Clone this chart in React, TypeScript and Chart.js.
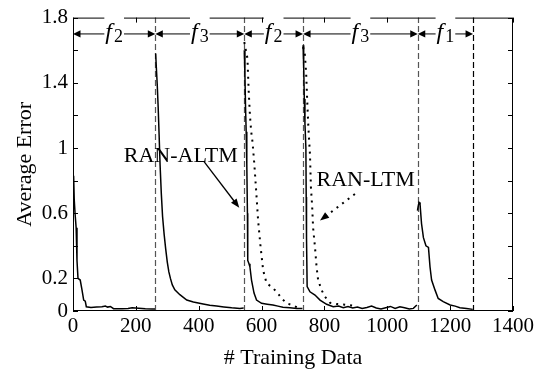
import React, { useEffect, useRef } from 'react';
import { Chart, registerables } from 'chart.js';

Chart.register(...registerables);

type P = [number, number];

// RAN-ALTM (solid) per task block
const altmTask1: P[] = [
  [2, 0.83], [4, 0.68], [6.5, 0.6], [10, 0.51], [12.7, 0.31], [15.9, 0.2], [23, 0.19], [28.6, 0.13],
  [34, 0.067], [39, 0.06], [42.4, 0.026], [57, 0.022], [75, 0.025], [92, 0.026], [103, 0.03],
  [110, 0.024], [119, 0.028], [129, 0.014], [156, 0.014], [175, 0.016], [188, 0.02], [209, 0.017],
  [230, 0.014], [252, 0.012], [261, 0.012],
];
const altmTask2: P[] = [
  [263, 1.58], [265, 1.5], [268, 1.39], [271, 1.25], [274, 1.08], [277, 0.9], [281, 0.72], [285, 0.58],
  [290, 0.47], [295, 0.38], [300, 0.3], [305, 0.24], [310, 0.2], [316, 0.16], [324, 0.13], [340, 0.1],
  [362, 0.067], [383, 0.055], [414, 0.043], [435, 0.035], [457, 0.03], [480, 0.025], [505, 0.02],
  [531, 0.016], [543, 0.018],
];
const altmTask3: P[] = [
  [545, 1.6], [547, 1.45], [549, 1.25], [551, 1.1], [553, 0.9], [555, 0.6], [556, 0.31], [560, 0.29],
  [563, 0.27], [568, 0.19], [576, 0.11], [584, 0.067], [600, 0.047], [618, 0.042], [636, 0.037],
  [652, 0.03], [668, 0.023], [690, 0.02], [712, 0.016], [730, 0.015],
];
const altmTask4: P[] = [
  [732, 1.63], [734, 1.5], [736, 1.3], [738, 1.15], [741, 1.0], [742, 0.7], [743, 0.45], [745, 0.15],
  [754, 0.118], [770, 0.098], [786, 0.067], [807, 0.041], [828, 0.026], [845, 0.03], [860, 0.02],
  [875, 0.028], [890, 0.018], [905, 0.025], [920, 0.015], [935, 0.022], [950, 0.03], [965, 0.018],
  [980, 0.012], [995, 0.02], [1010, 0.028], [1025, 0.015], [1040, 0.026], [1055, 0.02], [1070, 0.012],
  [1083, 0.016], [1094, 0.037],
];
const altmTask5: P[] = [
  [1096, 0.616], [1099, 0.65], [1101, 0.667], [1104, 0.66], [1109, 0.535], [1115, 0.45], [1123, 0.4],
  [1131, 0.39], [1136, 0.27], [1141, 0.19], [1152, 0.128], [1162, 0.077], [1178, 0.057], [1200, 0.037],
  [1216, 0.03], [1231, 0.02], [1252, 0.016], [1272, 0.01],
];

// RAN-LTM (dotted) where it departs from the solid curve
const ltmTask3: P[] = [
  [545, 1.65], [550, 1.6], [555, 1.55], [559, 1.35], [563, 1.2], [567, 1.1], [571, 1.04], [577, 0.9],
  [582, 0.76], [589, 0.555], [597, 0.39], [605, 0.25], [616, 0.17], [632, 0.148], [648, 0.118],
  [664, 0.077], [680, 0.047], [696, 0.037], [712, 0.023], [725, 0.016],
];
const ltmTask4: P[] = [
  [732, 1.62], [738, 1.57], [742, 1.45], [745, 1.3], [749, 1.125], [754, 0.96], [757, 0.76], [761, 0.64],
  [764, 0.51], [770, 0.39], [775, 0.27], [780, 0.19], [791, 0.128], [802, 0.087], [818, 0.05],
  [839, 0.043], [860, 0.04], [881, 0.035], [900, 0.03],
];

const taskBounds = [0, 262, 545, 732, 1097, 1273];
const taskNames = ['2', '3', '2', '3', '1'];
const yTickLabels = [0, 0.2, 0.6, 1, 1.4, 1.8];
const arrowRowY = 1.7;
const altmNote = { text: 'RAN-ALTM', at: [343, 0.95], from: [417, 0.917], to: [529, 0.633] };
const ltmNote = { text: 'RAN-LTM', at: [931, 0.8], from: [897, 0.718], to: [786, 0.555] };

const SERIF = '"Liberation Serif", "DejaVu Serif", serif';

function join(segs: P[][]) {
  const out: { x: number; y: number | null }[] = [];
  segs.forEach((s, i) => {
    if (i) out.push({ x: s[0][0], y: null });
    s.forEach(([x, y]) => out.push({ x, y }));
  });
  return out;
}

function head(ctx: CanvasRenderingContext2D, x1: number, y1: number, x2: number, y2: number, len: number, hw: number) {
  const a = Math.atan2(y2 - y1, x2 - x1);
  const c = Math.cos(a), s = Math.sin(a);
  ctx.beginPath();
  ctx.moveTo(x2, y2);
  ctx.lineTo(x2 - len * c + hw * s, y2 - len * s - hw * c);
  ctx.lineTo(x2 - len * c - hw * s, y2 - len * s + hw * c);
  ctx.closePath();
  ctx.fill();
}

const framePlugin = {
  id: 'frame',
  beforeDatasetsDraw(chart: any) {
    const { ctx, chartArea: { top, bottom }, scales: { x } } = chart;
    ctx.save();
    ctx.lineWidth = 1.2;
    ctx.setLineDash([6, 3]);
    taskBounds.slice(1).forEach((b, i, arr) => {
      const px = Math.round(x.getPixelForValue(b)) + 0.5;
      ctx.strokeStyle = i === arr.length - 1 ? '#000' : '#555';
      ctx.beginPath();
      ctx.moveTo(px, bottom);
      ctx.lineTo(px, top);
      ctx.stroke();
    });
    ctx.restore();
  },
  afterDatasetsDraw(chart: any) {
    const { ctx, chartArea: { left, right, top, bottom }, scales: { x, y } } = chart;
    ctx.save();
    // frame
    ctx.strokeStyle = '#000';
    ctx.lineWidth = 1;
    ctx.strokeRect(left + 0.5, top + 0.5, right - left - 1, bottom - top - 1);
    // inward ticks
    ctx.beginPath();
    for (let v = 0; v <= 1400; v += 200) {
      const px = Math.round(x.getPixelForValue(v)) + 0.5;
      ctx.moveTo(px, bottom); ctx.lineTo(px, bottom - 5);
      ctx.moveTo(px, top); ctx.lineTo(px, top + 5);
    }
    for (let i = 0; i <= 9; i++) {
      const py = Math.round(y.getPixelForValue(i * 0.2)) + 0.5;
      ctx.moveTo(left, py); ctx.lineTo(left + 5, py);
      ctx.moveTo(right, py); ctx.lineTo(right - 5, py);
    }
    ctx.stroke();

    // task arrow row
    const ay = y.getPixelForValue(arrowRowY);
    for (let i = 0; i < taskNames.length; i++) {
      const a = x.getPixelForValue(taskBounds[i]);
      const b = x.getPixelForValue(taskBounds[i + 1]);
      ctx.strokeStyle = '#6e6e6e';
      ctx.lineWidth = 1.8;
      ctx.beginPath();
      ctx.moveTo(a + 5, ay); ctx.lineTo(b - 5, ay);
      ctx.stroke();
      ctx.fillStyle = '#000';
      head(ctx, b, ay, a, ay, 7.5, 3.7);
      head(ctx, a, ay, b, ay, 7.5, 3.7);
      // label
      const cx = (a + b) / 2;
      ctx.font = `italic 24px ${SERIF}`;
      const wf = ctx.measureText('f').width;
      ctx.font = `18px ${SERIF}`;
      const ws = ctx.measureText(taskNames[i]).width;
      const w = wf + ws + 2;
      const x0 = cx - w / 2;
      ctx.fillStyle = '#fff';
      ctx.fillRect(x0 - 1, top - 6, w + 2, ay - top + 16);
      ctx.fillStyle = '#000';
      ctx.textAlign = 'left';
      ctx.textBaseline = 'alphabetic';
      ctx.font = `italic 24px ${SERIF}`;
      ctx.fillText('f', x0, ay + 5);
      ctx.font = `18px ${SERIF}`;
      ctx.fillText(taskNames[i], x0 + wf + 2, ay + 8);
    }

    // annotations
    ctx.fillStyle = '#000';
    ctx.font = `22px ${SERIF}`;
    ctx.textAlign = 'center';
    ctx.textBaseline = 'middle';
    [altmNote, ltmNote].forEach((n, k) => {
      ctx.fillText(n.text, x.getPixelForValue(n.at[0]), y.getPixelForValue(n.at[1]));
      const x1 = x.getPixelForValue(n.from[0]), y1 = y.getPixelForValue(n.from[1]);
      const x2 = x.getPixelForValue(n.to[0]), y2 = y.getPixelForValue(n.to[1]);
      ctx.strokeStyle = '#000';
      ctx.lineWidth = k === 0 ? 1.3 : 2;
      ctx.setLineDash(k === 0 ? [] : [2, 5]);
      const ang = Math.atan2(y2 - y1, x2 - x1);
      ctx.beginPath();
      ctx.moveTo(x1, y1);
      ctx.lineTo(x2 - 7 * Math.cos(ang), y2 - 7 * Math.sin(ang));
      ctx.stroke();
      ctx.setLineDash([]);
      head(ctx, x1, y1, x2, y2, 9, 3.5);
    });
    ctx.restore();
  },
};

export default function App() {
  const ref = useRef<HTMLCanvasElement | null>(null);
  useEffect(() => {
    if (!ref.current) return;
    const chart = new Chart(ref.current, {
      type: 'line',
      data: {
        datasets: [
          {
            label: 'RAN-ALTM',
            data: join([altmTask1, altmTask2, altmTask3, altmTask4, altmTask5]) as any,
            borderColor: '#000',
            borderWidth: 1.5,
            pointRadius: 0,
            tension: 0,
            spanGaps: false,
          },
          {
            label: 'RAN-LTM',
            data: join([ltmTask3, ltmTask4]) as any,
            borderColor: '#000',
            borderWidth: 2,
            borderDash: [2, 5],
            pointRadius: 0,
            tension: 0,
            spanGaps: false,
          },
        ],
      },
      options: {
        animation: false,
        responsive: false,
        maintainAspectRatio: false,
        layout: { padding: { left: 0, right: 35, top: 16, bottom: 0 } },
        plugins: { legend: { display: false }, tooltip: { enabled: false } },
        scales: {
          x: {
            type: 'linear',
            min: 0,
            max: 1400,
            grid: { display: false, drawTicks: false },
            border: { display: false },
            ticks: {
              stepSize: 200,
              autoSkip: false,
              maxRotation: 0,
              padding: 3,
              color: '#000',
              font: { family: SERIF, size: 21 },
              callback: (v: any) => String(v),
            },
            title: {
              display: true,
              text: '# Training Data',
              color: '#000',
              font: { family: SERIF, size: 22 },
              padding: { top: 0, bottom: 4 },
            },
            afterFit: (s: any) => { s.height = 64; },
          },
          y: {
            type: 'linear',
            min: 0,
            max: 1.8,
            grid: { display: false, drawTicks: false },
            border: { display: false },
            ticks: {
              stepSize: 0.2,
              autoSkip: false,
              padding: 5,
              color: '#000',
              font: { family: SERIF, size: 21 },
              callback: (v: any) => {
                const m = yTickLabels.find((t) => Math.abs(t - Number(v)) < 1e-6);
                return m === undefined ? '' : String(m);
              },
            },
            title: {
              display: true,
              text: 'Average Error',
              color: '#000',
              font: { family: SERIF, size: 22 },
              padding: { top: 12, bottom: 0 },
            },
            afterFit: (s: any) => { s.width = 73; },
          },
        },
      },
      plugins: [framePlugin],
    });
    return () => chart.destroy();
  }, []);
  return (
    <div style={{ position: 'absolute', left: 0, top: 0, width: 548, height: 375, background: '#fff' }}>
      <canvas ref={ref} width={548} height={375} style={{ width: 548, height: 375 }} />
    </div>
  );
}
